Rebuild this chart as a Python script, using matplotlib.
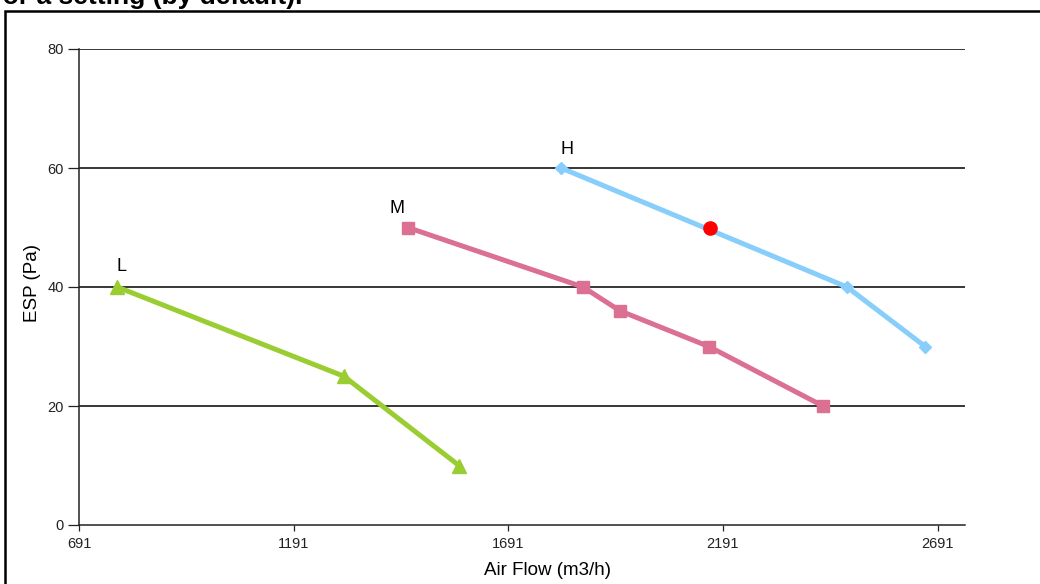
import matplotlib.pyplot as plt
from matplotlib.patches import Rectangle

# fan speed curves: air flow (m3/h) vs external static pressure (Pa)
low_flow = [780, 1308, 1576]
low_esp = [40, 25, 10]
mid_flow = [1457, 1865, 1951, 2158, 2424]
mid_esp = [50, 40, 36, 30, 20]
high_flow = [1814, 2480, 2662]
high_esp = [60, 40, 30]
# default setting point on the H curve
default_flow = [2161]
default_esp = [50]

x_ticks = [691, 1191, 1691, 2191, 2691]
y_ticks = [0, 20, 40, 60, 80]


def main():
    fig = plt.figure(figsize=(10.4, 5.84), dpi=100)
    W, H = 1040, 584

    # cut-off heading and the frame around the chart
    fig.text(302 / W, 1 - 4 / H, "Static pressure curve for a setting (by default).",
             ha="right", va="baseline", fontsize=19, fontweight="bold",
             family="Liberation Sans")
    fig.patches.append(Rectangle((5 / W, -0.1), 1.2, 1 - 11 / H + 0.1,
                                 transform=fig.transFigure, fill=False,
                                 edgecolor="black", linewidth=1.8))

    ax = fig.add_axes([79 / W, 1 - 525 / H, (965 - 79) / W, (525 - 49) / H])
    ax.set_xlim(691, 691 + 886 / 0.4293)
    ax.set_ylim(0, 80)

    for y in y_ticks[1:]:
        ax.axhline(y, color="black", linewidth=1.1, zorder=1)

    ax.plot(low_flow, low_esp, color="#9acd32", linewidth=3.6, marker="^",
            markersize=10, zorder=3)
    ax.plot(mid_flow, mid_esp, color="#db7093", linewidth=3.6, marker="s",
            markersize=8.5, zorder=3)
    ax.plot(high_flow, high_esp, color="#87cefa", linewidth=3.6, marker="D",
            markersize=6.5, zorder=3)
    ax.plot(default_flow, default_esp, linestyle="none", marker="o",
            color="red", markersize=9.5, zorder=4)

    offsets = {"L": (3, 15), "M": (-8, 14), "H": (4, 13)}
    for name, xs, ys in (("L", low_flow, low_esp), ("M", mid_flow, mid_esp),
                         ("H", high_flow, high_esp)):
        ax.annotate(name, (xs[0], ys[0]), xytext=offsets[name],
                    textcoords="offset points", ha="center", va="center",
                    fontsize=13, family="Liberation Sans")

    ax.set_xticks(x_ticks)
    ax.set_yticks(y_ticks)
    ax.tick_params(labelsize=10.5, width=0.9, color="#222222",
                   labelcolor="#222222")
    ax.tick_params(axis="x", length=4.5, pad=4)
    ax.tick_params(axis="y", length=8, pad=3)
    for lbl in ax.get_xticklabels() + ax.get_yticklabels():
        lbl.set_family("Liberation Sans")
    for side in ("top", "right"):
        ax.spines[side].set_visible(False)
    for side in ("left", "bottom"):
        ax.spines[side].set_color("#222222")
        ax.spines[side].set_linewidth(1.1)

    ax.set_xlabel("Air Flow (m3/h)", fontsize=13.5, family="Liberation Sans",
                  va="center")
    ax.set_ylabel("ESP (Pa)", fontsize=13.5, family="Liberation Sans",
                  va="center")
    ax.xaxis.set_label_coords(0.529, -0.0966)
    ax.yaxis.set_label_coords(-0.053, 0.508)

    fig.savefig("out.png", dpi=100)


if __name__ == "__main__":
    main()
